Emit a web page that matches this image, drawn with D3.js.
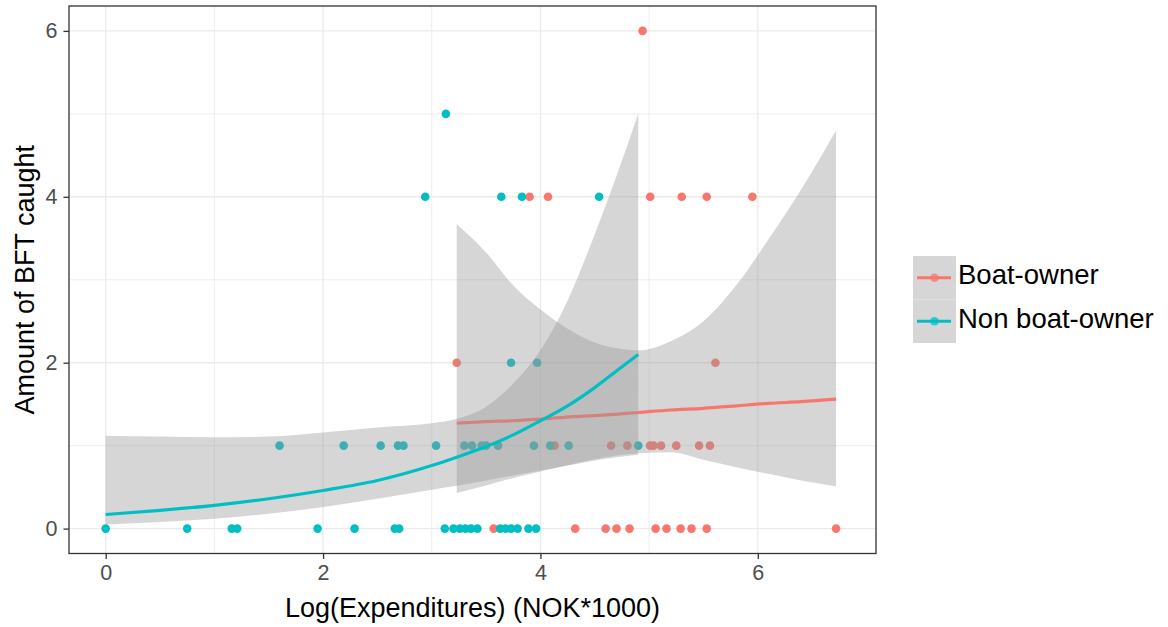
<!DOCTYPE html>
<html>
<head>
<meta charset="utf-8">
<script src="https://cdn.jsdelivr.net/npm/d3@7"></script>
<style>
  html, body { margin: 0; padding: 0; background: #ffffff; }
  svg { display: block; font-family: "Liberation Sans", Arial, sans-serif; }
</style>
</head>
<body>
<svg id="chart" width="1168" height="627"></svg>
<script>
// ---------------- data ----------------
const seriesNames = ["Boat-owner", "Non boat-owner"];
const seriesColors = ["#F8766D", "#00BFC4"];

// observed points: Boat-owner
const boatX = [3.57, 4.32, 4.60, 4.70, 4.82, 5.06, 5.16, 5.29, 5.39, 5.53, 6.72,
               4.13, 4.65, 4.80, 5.01, 5.04, 5.11, 5.25, 5.46, 5.56,
               3.23, 5.61,
               3.90, 4.07, 5.01, 5.30, 5.53, 5.95,
               4.94];
const boatY = [0, 0, 0, 0, 0, 0, 0, 0, 0, 0, 0,
               1, 1, 1, 1, 1, 1, 1, 1, 1,
               2, 2,
               4, 4, 4, 4, 4, 4,
               6];

// observed points: Non boat-owner
const nonX = [0.00, 0.75, 1.16, 1.21, 1.95, 2.29, 2.66, 2.70, 3.12, 3.20, 3.26, 3.31, 3.36, 3.42,
              3.63, 3.68, 3.73, 3.79, 3.89, 3.96,
              1.60, 2.19, 2.53, 2.69, 2.74, 3.04, 3.30, 3.37, 3.46, 3.50, 3.61, 3.94, 4.09, 4.26, 4.90,
              3.73, 3.97,
              2.94, 3.64, 3.83, 4.54,
              3.13];
const nonY = [0, 0, 0, 0, 0, 0, 0, 0, 0, 0, 0, 0, 0, 0,
              0, 0, 0, 0, 0, 0,
              1, 1, 1, 1, 1, 1, 1, 1, 1, 1, 1, 1, 1, 1, 1,
              2, 2,
              4, 4, 4, 4,
              5];

// smoothed fit + confidence band: Boat-owner
const boatFitX  = [3.23, 3.5, 3.75, 4.0, 4.3, 4.6, 4.9, 5.2, 5.5, 5.8, 6.1, 6.4, 6.72];
const boatFitY  = [1.27, 1.29, 1.30, 1.32, 1.35, 1.37, 1.40, 1.43, 1.45, 1.48, 1.51, 1.53, 1.56];
const boatFitLo = [0.43, 0.52, 0.61, 0.69, 0.78, 0.86, 0.91, 0.92, 0.83, 0.74, 0.66, 0.58, 0.51];
const boatFitHi = [3.67, 3.33, 2.93, 2.64, 2.37, 2.20, 2.15, 2.26, 2.50, 2.93, 3.49, 4.09, 4.80];

// smoothed fit + confidence band: Non boat-owner
const nonFitX  = [0, 0.5, 1.0, 1.5, 2.0, 2.5, 3.0, 3.25, 3.5, 3.75, 4.0, 4.25, 4.5, 4.7, 4.9];
const nonFitY  = [0.17, 0.22, 0.28, 0.36, 0.46, 0.58, 0.76, 0.87, 0.99, 1.13, 1.30, 1.48, 1.70, 1.90, 2.10];
const nonFitLo = [0.05, 0.08, 0.12, 0.18, 0.26, 0.36, 0.47, 0.52, 0.58, 0.64, 0.70, 0.76, 0.82, 0.86, 0.89];
const nonFitHi = [1.12, 1.11, 1.10, 1.11, 1.16, 1.22, 1.27, 1.33, 1.47, 1.75, 2.15, 2.75, 3.55, 4.25, 5.00];

const xMajorTicks = [0, 2, 4, 6];
const xMinorTicks = [1, 3, 5];
const yMajorTicks = [0, 2, 4, 6];
const yMinorTicks = [1, 3, 5];

const xTitle = "Log(Expenditures) (NOK*1000)";
const yTitle = "Amount of BFT caught";

// ---------------- layout ----------------
const panel = { left: 69, right: 876, top: 6, bottom: 553.5 };
const svg = d3.select("#chart");

const x = d3.scaleLinear().domain([-0.3375, 7.0875]).range([panel.left, panel.right]);
const y = d3.scaleLinear().domain([-0.3, 6.3]).range([panel.bottom, panel.top]);

// grid
const grid = svg.append("g");
grid.selectAll(".xminor").data(xMinorTicks).enter().append("line")
  .attr("x1", d => x(d)).attr("x2", d => x(d))
  .attr("y1", panel.top).attr("y2", panel.bottom)
  .attr("stroke", "#EBEBEB").attr("stroke-width", 0.9);
grid.selectAll(".yminor").data(yMinorTicks).enter().append("line")
  .attr("y1", d => y(d)).attr("y2", d => y(d))
  .attr("x1", panel.left).attr("x2", panel.right)
  .attr("stroke", "#EBEBEB").attr("stroke-width", 0.9);
grid.selectAll(".xmajor").data(xMajorTicks).enter().append("line")
  .attr("x1", d => x(d)).attr("x2", d => x(d))
  .attr("y1", panel.top).attr("y2", panel.bottom)
  .attr("stroke", "#EBEBEB").attr("stroke-width", 1.4);
grid.selectAll(".ymajor").data(yMajorTicks).enter().append("line")
  .attr("y1", d => y(d)).attr("y2", d => y(d))
  .attr("x1", panel.left).attr("x2", panel.right)
  .attr("stroke", "#EBEBEB").attr("stroke-width", 1.4);

// points
const plot = svg.append("g");
const boatPts = boatX.map((v, i) => ({ x: v, y: boatY[i] }));
const nonPts = nonX.map((v, i) => ({ x: v, y: nonY[i] }));
plot.selectAll(".pb").data(boatPts).enter().append("circle")
  .attr("cx", d => x(d.x)).attr("cy", d => y(d.y)).attr("r", 4.3)
  .attr("fill", seriesColors[0]);
plot.selectAll(".pn").data(nonPts).enter().append("circle")
  .attr("cx", d => x(d.x)).attr("cy", d => y(d.y)).attr("r", 4.3)
  .attr("fill", seriesColors[1]);

// smooths
const area = d3.area().x(d => x(d.x)).y0(d => y(d.lo)).y1(d => y(d.hi)).curve(d3.curveMonotoneX);
const line = d3.line().x(d => x(d.x)).y(d => y(d.y)).curve(d3.curveMonotoneX);

function drawSmooth(xs, ys, los, his, color) {
  const rows = xs.map((v, i) => ({ x: v, y: ys[i], lo: los[i], hi: his[i] }));
  plot.append("path").datum(rows).attr("d", area)
    .attr("fill", "#999999").attr("fill-opacity", 0.4);
  plot.append("path").datum(rows).attr("d", line)
    .attr("fill", "none").attr("stroke", color).attr("stroke-width", 3.2);
}
drawSmooth(boatFitX, boatFitY, boatFitLo, boatFitHi, seriesColors[0]);
drawSmooth(nonFitX, nonFitY, nonFitLo, nonFitHi, seriesColors[1]);

// panel border
svg.append("rect")
  .attr("x", panel.left).attr("y", panel.top)
  .attr("width", panel.right - panel.left).attr("height", panel.bottom - panel.top)
  .attr("fill", "none").attr("stroke", "#333333").attr("stroke-width", 1.3);

// axes
const xAxis = d3.axisBottom(x).tickValues(xMajorTicks).tickSize(5.5).tickPadding(6).tickFormat(d3.format("d"));
const yAxis = d3.axisLeft(y).tickValues(yMajorTicks).tickSize(5.5).tickPadding(6).tickFormat(d3.format("d"));

const gx = svg.append("g").attr("transform", `translate(0,${panel.bottom})`).call(xAxis);
const gy = svg.append("g").attr("transform", `translate(${panel.left},0)`).call(yAxis);
[gx, gy].forEach(g => {
  g.select(".domain").remove();
  g.selectAll(".tick line").attr("stroke", "#333333").attr("stroke-width", 1.3);
  g.selectAll(".tick text").attr("fill", "#4D4D4D")
    .style("font-size", "21.5px").style("font-family", "'Liberation Sans', Arial, sans-serif");
});

// axis titles
svg.append("text")
  .attr("x", (panel.left + panel.right) / 2).attr("y", 617)
  .attr("text-anchor", "middle").attr("fill", "#000")
  .style("font-size", "27px").text(xTitle);
svg.append("text")
  .attr("transform", `translate(34,${(panel.top + panel.bottom) / 2}) rotate(-90)`)
  .attr("text-anchor", "middle").attr("fill", "#000")
  .style("font-size", "27px").text(yTitle);

// legend
const legend = svg.append("g");
const keyX = 913, keyW = 43, keyTop = 256, keyH = 43.5;
seriesNames.forEach((name, i) => {
  const ky = keyTop + i * keyH;
  legend.append("rect").attr("x", keyX).attr("y", ky).attr("width", keyW).attr("height", keyH)
    .attr("fill", "#D6D6D6");
  legend.append("line")
    .attr("x1", keyX + 4).attr("x2", keyX + keyW - 5)
    .attr("y1", ky + keyH / 2).attr("y2", ky + keyH / 2)
    .attr("stroke", seriesColors[i]).attr("stroke-width", 3.2);
  legend.append("circle").attr("cx", keyX + 21.5).attr("cy", ky + keyH / 2).attr("r", 4.3)
    .attr("fill", seriesColors[i]).attr("fill-opacity", 0.75);
  legend.append("text")
    .attr("x", 958).attr("y", ky + keyH / 2 - 3).attr("dy", "0.35em")
    .attr("fill", "#000").style("font-size", "27.5px").text(name);
});
</script>
</body>
</html>
